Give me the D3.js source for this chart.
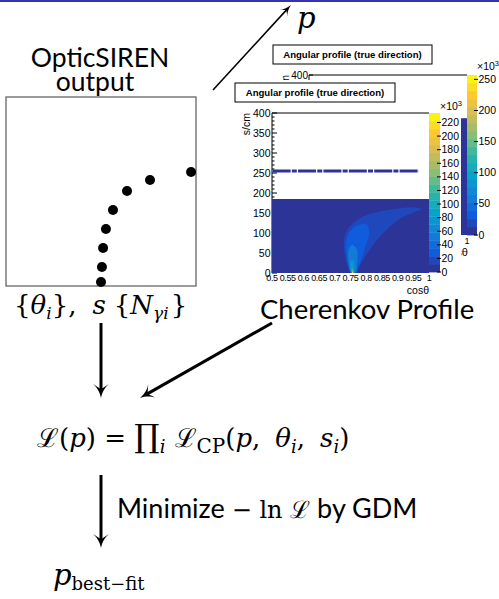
<!DOCTYPE html>
<html>
<head>
<meta charset="utf-8">
<script src="https://cdn.jsdelivr.net/npm/d3@7"></script>
<style>
  body { margin: 0; background: #fff; }
  svg { display: block; }
</style>
</head>
<body>
<div id="chart"></div>
<script>
// ---- data ----

// OpticSIREN output dots (schematic units 0..1)
var dotX = [0.974, 0.758, 0.637, 0.563, 0.526, 0.511, 0.505, 0.500];
var dotY = [0.603, 0.561, 0.503, 0.402, 0.302, 0.201, 0.101, 0.021];

// Angular profile axes
var cosTicks = [0.5, 0.55, 0.6, 0.65, 0.7, 0.75, 0.8, 0.85, 0.9, 0.95, 1];
var cosLabels = ["0.5", "0.55", "0.6", "0.65", "0.7", "0.75", "0.8", "0.85", "0.9", "0.95", "1"];
var sTicks = [0, 50, 100, 150, 200, 250, 300, 350, 400];
var frontBarTicks = [0, 20, 40, 60, 80, 100, 120, 140, 160, 180, 200, 220];
var frontBarMax = 234;
var backBarTicks = [0, 50, 100, 150, 200, 250];
var backBarMax = 257;

// ROOT kBird palette stops
var birdStops = ["#352a87", "#0f5cdd", "#1481d6", "#06a4ca", "#2eb7a4",
                 "#87bf77", "#d1bb59", "#fec832", "#f9fb0e"];
var nBands = 20;

// front histogram content
var fillTopS = 185;          // filled region 0..185 cm
var dashRowS = 255;          // isolated row of bins
var dashRowCos = [0.502, 0.968];

// blob contours [cos, s] with band index
var blobLevels = [
  { band: 1, pts: [[0.752, 0], [0.738, 25], [0.729, 65], [0.733, 95], [0.752, 120], [0.795, 143], [0.875, 158],
                   [0.950, 164], [0.975, 160], [0.910, 137], [0.845, 92], [0.800, 45], [0.775, 12], [0.768, 0]] },
  { band: 2, pts: [[0.752, 0], [0.740, 30], [0.736, 70], [0.745, 100], [0.770, 118], [0.800, 122], [0.810, 100],
                   [0.795, 60], [0.778, 20], [0.767, 0]] },
  { band: 4, pts: [[0.753, 0], [0.744, 25], [0.743, 55], [0.755, 70], [0.770, 60], [0.772, 30], [0.765, 0]] },
  { band: 6, pts: [[0.754, 0], [0.749, 15], [0.750, 30], [0.758, 32], [0.763, 15], [0.761, 0]] },
  { band: 10, pts: [[0.755, 0], [0.753, 6], [0.756, 12], [0.759, 6], [0.759, 0]] },
  { band: 18, pts: [[0.7555, 0], [0.7555, 3], [0.758, 3], [0.758, 0]] }
];

// back histogram: visible strip right of the front pad [cos0, cos1, s0, s1]
var backStrip = [0.981, 1.0, 0, 292];

// ---- drawing ----
var W = 499, H = 599;
var svg = d3.select("#chart").append("svg").attr("width", W).attr("height", H);

var palette = d3.piecewise(d3.interpolateRgb, birdStops);
function bandColor(i) { return palette((i + 0.5) / nBands); }

var sansFont = "Lato, 'DejaVu Sans', sans-serif";
var mathFont = "'DejaVu Serif', serif";
var rootFont = "'Liberation Sans', Arial, sans-serif";

// top rule
svg.append("rect").attr("x", 0).attr("y", 0).attr("width", W).attr("height", 2).attr("fill", "#3333b2");

// arrow helper
function arrow(x1, y1, x2, y2, lw, L, Wd) {
  var ang = Math.atan2(y2 - y1, x2 - x1);
  var back = L * 0.6;
  svg.append("line")
    .attr("x1", x1).attr("y1", y1)
    .attr("x2", x2 - back * Math.cos(ang)).attr("y2", y2 - back * Math.sin(ang))
    .attr("stroke", "#000").attr("stroke-width", lw);
  var p = "M0,0 C" + (-L * 0.45) + "," + (-Wd * 0.15) + " " + (-L * 0.8) + "," + (-Wd * 0.55) + " " + (-L) + "," + (-Wd) +
          " L" + (-L * 0.62) + ",0 L" + (-L) + "," + Wd +
          " C" + (-L * 0.8) + "," + (Wd * 0.55) + " " + (-L * 0.45) + "," + (Wd * 0.15) + " 0,0 Z";
  svg.append("path").attr("d", p)
    .attr("transform", "translate(" + x2 + "," + y2 + ") rotate(" + (ang * 180 / Math.PI) + ")")
    .attr("fill", "#000");
}

// mixed-style text helper
function richText(x, y, parts, anchor) {
  var t = svg.append("text").attr("x", x).attr("y", y).attr("fill", "#000");
  if (anchor) t.attr("text-anchor", anchor);
  var shift = 0;
  parts.forEach(function (p) {
    var sp = t.append("tspan").text(p.t)
      .attr("font-family", p.font || mathFont)
      .attr("font-size", p.size)
      .attr("font-style", p.it ? "italic" : "normal");
    var want = p.sub || 0;
    if (want !== shift) { sp.attr("dy", want - shift); shift = want; }
    if (p.dx) sp.attr("dx", p.dx);
  });
  return t;
}

// ---- left panel: OpticSIREN output ----
var xOpt = d3.scaleLinear().domain([0, 1]).range([6, 196]);
var yOpt = d3.scaleLinear().domain([0, 1]).range([286, 97]);

svg.append("text").attr("x", 100).attr("y", 67).attr("text-anchor", "middle")
  .attr("font-family", sansFont).attr("font-size", 26.5).text("OpticSIREN");
svg.append("text").attr("x", 95).attr("y", 91).attr("text-anchor", "middle")
  .attr("font-family", sansFont).attr("font-size", 26.5).text("output");

svg.append("rect").attr("x", xOpt(0)).attr("y", yOpt(1))
  .attr("width", xOpt(1) - xOpt(0)).attr("height", yOpt(0) - yOpt(1))
  .attr("fill", "none").attr("stroke", "#666").attr("stroke-width", 1.3);

svg.selectAll("circle.opt").data(dotX).enter().append("circle")
  .attr("class", "opt")
  .attr("cx", function (d) { return xOpt(d); })
  .attr("cy", function (d, i) { return yOpt(dotY[i]); })
  .attr("r", 5).attr("fill", "#000");

richText(14, 314, [
  { t: "{", size: 26 }, { t: "θ", size: 26, it: true }, { t: "i", size: 17, it: true, sub: 5 },
  { t: "},", size: 26 }, { t: "s", size: 26, it: true, dx: 16 }, { t: "{", size: 26, dx: 8 },
  { t: "N", size: 26, it: true }, { t: "γi", size: 17, it: true, sub: 5 }, { t: "}", size: 26, dx: 2 }
]);

// ---- top arrow to p ----
arrow(213, 90, 291, 5, 1.6, 11, 5);
richText(297, 28, [{ t: "p", size: 29, it: true }]);

// ---- back histogram (partly hidden by the front pad) ----
var xB = d3.scaleLinear().domain([0.5, 1]).range([309, 467]);
var yB = d3.scaleLinear().domain([0, 400]).range([235, 75]);
var backBarY = d3.scaleLinear().domain([0, backBarMax]).range([235, 75]);

function titleBox(x, y, w, h) {
  svg.append("rect").attr("x", x).attr("y", y).attr("width", w).attr("height", h)
    .attr("fill", "#fff").attr("stroke", "#000").attr("stroke-width", 1);
  svg.append("text").attr("x", x + w / 2).attr("y", y + h / 2 + 3.5).attr("text-anchor", "middle")
    .attr("font-family", rootFont).attr("font-weight", "bold").attr("font-size", 9.6)
    .text("Angular profile (true direction)");
}

titleBox(273, 45, 159, 19);

svg.append("rect").attr("x", xB(backStrip[0])).attr("y", yB(backStrip[3]))
  .attr("width", xB(backStrip[1]) - xB(backStrip[0])).attr("height", yB(backStrip[2]) - yB(backStrip[3]))
  .attr("fill", bandColor(0));
svg.append("path").attr("d", "M" + xB(0.5) + "," + yB(0) + " V" + yB(400) + " H" + xB(1))
  .attr("fill", "none").attr("stroke", "#000").attr("stroke-width", 1);
svg.append("line").attr("x1", xB(0.5)).attr("x2", xB(0.5) + 4).attr("y1", yB(400)).attr("y2", yB(400))
  .attr("stroke", "#000");
svg.append("text").attr("x", xB(0.5) - 1).attr("y", yB(400) + 3.5).attr("text-anchor", "end")
  .attr("font-family", rootFont).attr("font-size", 10).text("400");

// back axis titles, clipped to the part not under the front pad
var backClip = svg.append("clipPath").attr("id", "backClip");
backClip.append("rect").attr("x", 0).attr("y", 0).attr("width", W).attr("height", 80);
backClip.append("rect").attr("x", 461).attr("y", 0).attr("width", 38).attr("height", 300);
var backG = svg.append("g").attr("clip-path", "url(#backClip)");
backG.append("text").attr("transform", "translate(" + 289 + "," + yB(400) + ") rotate(-90)")
  .attr("text-anchor", "end").attr("font-family", rootFont).attr("font-size", 10.5).text("s/cm");
backG.append("text").attr("x", xB(1)).attr("y", yB(0) + 9).attr("text-anchor", "middle")
  .attr("font-family", rootFont).attr("font-size", 9).text("1");
backG.append("text").attr("x", xB(1) + 1).attr("y", yB(0) + 21).attr("text-anchor", "end")
  .attr("font-family", rootFont).attr("font-size", 11).text("cosθ");

function colorBar(x0, x1, yScale, max, ticks, expX, expY) {
  for (var i = 0; i < nBands; i++) {
    var a = yScale(max * (i + 1) / nBands), b = yScale(max * i / nBands);
    svg.append("rect").attr("x", x0).attr("y", a).attr("width", x1 - x0).attr("height", b - a + 0.4)
      .attr("fill", bandColor(i));
  }
  var g = svg.append("g");
  ticks.forEach(function (v) {
    g.append("line").attr("x1", x1 - 3).attr("x2", x1 + 1).attr("y1", yScale(v)).attr("y2", yScale(v))
      .attr("stroke", "#000").attr("stroke-width", 1);
    g.append("text").attr("x", x1 + 1.5).attr("y", yScale(v) + 3.6)
      .attr("font-family", rootFont).attr("font-size", 10.5).text(v);
  });
  var e = svg.append("text").attr("x", expX).attr("y", expY)
    .attr("font-family", rootFont).attr("font-size", 10.5).attr("fill", "#000");
  e.append("tspan").text("×10");
  e.append("tspan").attr("dy", -4).attr("font-size", 7.5).text("3");
}

colorBar(467, 477, backBarY, backBarMax, backBarTicks, 477, 70);

// ---- front histogram ----
svg.append("rect").attr("x", 230).attr("y", 80).attr("width", 231).attr("height", 220).attr("fill", "#fff");

titleBox(235, 83, 160, 19);

var xF = d3.scaleLinear().domain([0.5, 1]).range([272, 429]);
var yF = d3.scaleLinear().domain([0, 400]).range([273, 113]);
var frontBarY = d3.scaleLinear().domain([0, frontBarMax]).range([272, 113]);

// frame
svg.append("path").attr("d", "M" + xF(0.5) + "," + yF(0) + " V" + yF(400) + " H" + xF(1))
  .attr("fill", "none").attr("stroke", "#000").attr("stroke-width", 1);

// y ticks (inward, ROOT style)
var yMinor = d3.range(0, 401, 10);
svg.selectAll("line.ymin").data(yMinor).enter().append("line")
  .attr("class", "ymin")
  .attr("x1", xF(0.5)).attr("x2", function (d) { return xF(0.5) + (d % 50 === 0 ? 5 : 2.5); })
  .attr("y1", function (d) { return yF(d); }).attr("y2", function (d) { return yF(d); })
  .attr("stroke", "#000").attr("stroke-width", 1);
svg.selectAll("text.ylab").data(sTicks).enter().append("text")
  .attr("class", "ylab")
  .attr("x", xF(0.5) - 1.5).attr("y", function (d) { return yF(d) + 3.6; })
  .attr("text-anchor", "end").attr("font-family", rootFont).attr("font-size", 10.5)
  .text(function (d) { return d; });
svg.append("text").attr("transform", "translate(" + 250 + "," + yF(400) + ") rotate(-90)")
  .attr("text-anchor", "end").attr("font-family", rootFont).attr("font-size", 10.5).text("s/cm");

// histogram content
svg.append("rect").attr("x", xF(0.5)).attr("y", yF(fillTopS))
  .attr("width", xF(1) - xF(0.5)).attr("height", yF(0) - yF(fillTopS))
  .attr("fill", bandColor(0));

var blobLine = d3.line()
  .x(function (d) { return xF(d[0]); })
  .y(function (d) { return yF(d[1]); })
  .curve(d3.curveCatmullRomClosed.alpha(0.5));
var clip = svg.append("clipPath").attr("id", "frontClip");
clip.append("rect").attr("x", xF(0.5)).attr("y", yF(400)).attr("width", xF(1) - xF(0.5)).attr("height", yF(0) - yF(400));
svg.append("g").attr("clip-path", "url(#frontClip)")
  .selectAll("path").data(blobLevels).enter().append("path")
  .attr("d", function (d) { return blobLine(d.pts); })
  .attr("fill", function (d) { return bandColor(d.band); });

svg.append("line").attr("x1", xF(dashRowCos[0])).attr("x2", xF(dashRowCos[1]))
  .attr("y1", yF(dashRowS)).attr("y2", yF(dashRowS))
  .attr("stroke", bandColor(0)).attr("stroke-width", 3).attr("stroke-dasharray", "18,1.2,5,1.2");

// x tick labels
svg.selectAll("text.xlab").data(cosTicks).enter().append("text")
  .attr("class", "xlab")
  .attr("x", function (d) { return xF(d); }).attr("y", yF(0) + 8)
  .attr("text-anchor", "middle").attr("font-family", rootFont).attr("font-size", 9)
  .attr("letter-spacing", -0.4)
  .text(function (d, i) { return cosLabels[i]; });
svg.append("text").attr("x", xF(1)).attr("y", yF(0) + 21).attr("text-anchor", "end")
  .attr("font-family", rootFont).attr("font-size", 10.5).text("cosθ");

colorBar(429, 440, frontBarY, frontBarMax, frontBarTicks, 440, 110);

// ---- Cherenkov Profile label ----
svg.append("text").attr("x", 260).attr("y", 319)
  .attr("font-family", sansFont).attr("font-size", 27.5).text("Cherenkov Profile");

// ---- arrows into the likelihood ----
arrow(101, 323, 101, 398, 3, 14, 8);
arrow(272, 323, 140, 398, 3, 14, 8);

// likelihood formula
richText(37, 447, [
  { t: "ℒ", size: 26 }, { t: "(", size: 26 }, { t: "p", size: 26, it: true }, { t: ") = ", size: 26 },
  { t: "∏", size: 32 }, { t: "i", size: 18, it: true, sub: 6 },
  { t: "ℒ", size: 26, dx: 9 }, { t: "CP", size: 20, sub: 6 },
  { t: "(", size: 26 }, { t: "p", size: 26, it: true }, { t: ",", size: 26 },
  { t: "θ", size: 26, it: true, dx: 15 }, { t: "i", size: 18, it: true, sub: 6 }, { t: ",", size: 26 },
  { t: "s", size: 26, it: true, dx: 15 }, { t: "i", size: 18, it: true, sub: 6 }, { t: ")", size: 26 }
]);

// minimisation step
arrow(101, 475, 101, 548, 3, 14, 8);
richText(117, 518, [
  { t: "Minimize ", size: 27, font: sansFont },
  { t: "− ln ℒ", size: 24 },
  { t: " by GDM", size: 27, font: sansFont }
]);

// result
richText(53, 585, [
  { t: "p", size: 29, it: true },
  { t: "best−fit", size: 18, sub: 5 }
]);
</script>
</body>
</html>
